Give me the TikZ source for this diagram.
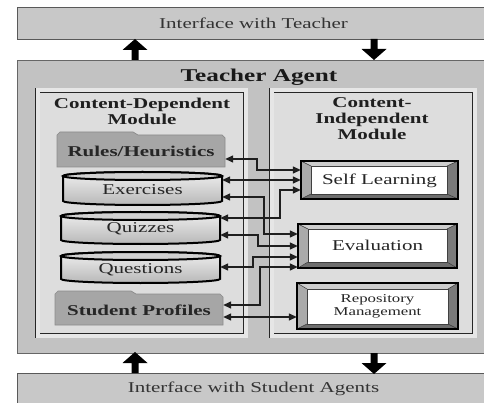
\documentclass[tikz,border=0pt]{standalone}
\usepackage{fontspec}
\setmainfont{Liberation Serif}[FakeStretch=1.4]
\usetikzlibrary{arrows.meta,calc}

\definecolor{ifgray}{HTML}{C8C8C8}
\definecolor{agentgray}{HTML}{C2C2C2}
\definecolor{modgap}{HTML}{E6E6E6}
\definecolor{modfill}{HTML}{DDDDDD}
\definecolor{foldergray}{HTML}{A6A6A6}
\definecolor{lidgray}{HTML}{D2D2D2}
\definecolor{bevtopc}{HTML}{CDCDCD}
\definecolor{bevleftc}{HTML}{AAAAAA}
\definecolor{bevrightc}{HTML}{7A7A7A}
\definecolor{bevbotc}{HTML}{6E6E6E}

% folder with a tab: left, tab top, right, bottom
\newcommand\foldershape[4]{%
  \filldraw[fill=foldergray, draw=black!45, line width=0.7pt]
    (#1,#4) -- (#1,#2+3) -- (#1+3,#2) -- (#1+76,#2) -- (#1+81,#2+3)
    -- (#3-3,#2+3) -- (#3,#2+6) -- (#3,#4) -- cycle;}

% drum (database) shape: left, right, top, bottom
\newcommand\drumshape[4]{%
  \path[draw=black, line width=2pt, top color=white!94!black, bottom color=black!28]
    (#1,#3+4) -- (#1,#4-4)
    arc[start angle=180, end angle=0, x radius={(#2-#1)/2}, y radius=4]
    -- (#2,#3+4)
    arc[start angle=0, end angle=-180, x radius={(#2-#1)/2}, y radius=4] -- cycle;
  \path[draw=black, line width=2pt, fill=lidgray]
    ({(#1+#2)/2},#3+4) ellipse[x radius={(#2-#1)/2}, y radius=4];}

% bevelled button: outer x1 y1 x2 y2, inner x1 y1 x2 y2
\newcommand\bevelbox[8]{%
  \fill[bevtopc]   (#1,#2) -- (#3,#2) -- (#7,#6) -- (#5,#6) -- cycle;
  \fill[bevbotc]   (#1,#4) -- (#3,#4) -- (#7,#8) -- (#5,#8) -- cycle;
  \fill[bevleftc]  (#1,#2) -- (#5,#6) -- (#5,#8) -- (#1,#4) -- cycle;
  \fill[bevrightc] (#3,#2) -- (#7,#6) -- (#7,#8) -- (#3,#4) -- cycle;
  \draw[black!80, line width=0.5pt] (#1,#2) -- (#5,#6) (#3,#2) -- (#7,#6)
    (#3,#4) -- (#7,#8) (#1,#4) -- (#5,#8);
  \filldraw[fill=white, draw=black!75, line width=0.6pt] (#5,#6) rectangle (#7,#8);
  \draw[black, line width=1.3pt] (#1,#2) rectangle (#3,#4);}

\begin{document}
\begin{tikzpicture}[x=1pt, y=-1pt,
  ifbox/.style={draw=black!65, line width=0.9pt, fill=ifgray, minimum width=473pt,
    minimum height=32pt, inner sep=0pt, text=black!80,
    font=\fontsize{15}{16}\selectfont},
  agentbox/.style={draw=black!60, line width=0.9pt, fill=agentgray, minimum width=473pt,
    minimum height=293pt, inner sep=0pt},
  modbox/.style={draw=black!85, line width=0.8pt, double=modgap, double distance=4pt,
    fill=modfill, minimum height=245pt, inner sep=0pt},
  title/.style={inner sep=0pt, text=black!90, font=\bfseries\fontsize{18}{20}\selectfont},
  modtitle/.style={inner sep=0pt, align=center, text=black!88,
    font=\bfseries\fontsize{15}{16}\selectfont},
  shapetext/.style={inner sep=0pt, text=black!85, font=\fontsize{15}{16}\selectfont},
  boldshape/.style={shapetext, font=\bfseries\fontsize{15}{16}\selectfont},
  conn/.style={{Triangle[length=8pt,width=7pt]}-{Triangle[length=8pt,width=7pt]},
    line width=1.4pt, draw=black!88},
  uparr/.pic={\fill[black] (-3.5,0) -- (-3.5,-10) -- (-12.5,-10) -- (0,-21)
    -- (12.5,-10) -- (3.5,-10) -- (3.5,0) -- cycle;},
  downarr/.pic={\fill[black] (-3.5,0) -- (-3.5,10) -- (-12.5,10) -- (0,21)
    -- (12.5,10) -- (3.5,10) -- (3.5,0) -- cycle;}
]
\useasboundingbox (0,0) rectangle (484,403);
\fill[white] (0,0) rectangle (484,403);

% outer interfaces and the agent frame
\node[ifbox] (iteacher) at (253.5,23) {Interface with Teacher};
\node[ifbox] (istudent) at (253.5,389) {Interface with Student Agents};
\node[agentbox] (agent) at (253.5,206.5) {};
\node[title] (agenttitle) at (259,77) {Teacher Agent};

% block arrows between the interfaces and the agent
\pic at (135,60) {uparr};
\pic at (374,39) {downarr};
\pic at (135,373) {uparr};
\pic at (374,353) {downarr};

% the two modules
\node[modbox, minimum width=208pt] (cdm) at (141.5,213) {};
\node[modbox, minimum width=203pt] (cim) at (373,213) {};
\node[modtitle] (cdmtitle) at (142,111) {Content-Dependent\\Module};
\node[modtitle] (cimtitle) at (372,119) {Content-\\Independent\\Module};

% content-dependent stores
\foldershape{57}{132}{225}{167}
\drumshape{63}{222}{172}{205}
\drumshape{61}{220}{212}{244}
\drumshape{61}{220}{252}{283}
\foldershape{55}{291}{223}{325}

% content-independent services
\bevelbox{301}{161}{458}{199}{311}{166}{447}{194}
\bevelbox{298}{224}{457}{268}{308}{229}{447}{262}
\bevelbox{297}{283}{458}{329}{307}{289}{448}{324}

% labels of stores and services
\node[boldshape, minimum width=168pt, minimum height=30pt] (rules) at (141,151) {Rules/Heuristics};
\node[shapetext, minimum width=159pt, minimum height=24pt] (ex) at (142.5,190) {Exercises};
\node[shapetext, minimum width=159pt, minimum height=24pt] (qz) at (140.5,229) {Quizzes};
\node[shapetext, minimum width=159pt, minimum height=24pt] (qs) at (140.5,270) {Questions};
\node[boldshape, minimum width=168pt, minimum height=30pt] (sp) at (139,310) {Student Profiles};
\node[shapetext, minimum width=157pt, minimum height=38pt] (sl) at (379.5,180.5) {Self Learning};
\node[shapetext, minimum width=159pt, minimum height=44pt] (eval) at (377.5,245.5) {Evaluation};
\node[shapetext, minimum width=161pt, minimum height=46pt, align=center,
  font=\fontsize{12}{13}\selectfont] (repo) at (377.5,306) {Repository\\Management};

% data flow between stores and services
\draw[conn] (rules.east |- 0,159) -- (257,159) -- (257,170) -- (sl.west |- 0,170);
\draw[conn] (ex.east |- 0,180) -- (sl.west |- 0,180);
\draw[conn] (ex.east |- 0,197) -- (264,197) -- (264,234) -- (eval.west |- 0,234);
\draw[conn] (qz.east |- 0,218) -- (280,218) -- (280,190) -- (sl.west |- 0,190);
\draw[conn] (qz.east |- 0,235) -- (258,235) -- (258,246) -- (eval.west |- 0,246);
\draw[conn] (qs.east |- 0,267) -- (253,267) -- (253,257) -- (eval.west |- 0,257);
\draw[conn] (sp.east |- 0,305) -- (260,305) -- (260,267) -- (eval.west |- 0,267);
\draw[conn] (sp.east |- 0,317) -- (repo.west |- 0,317);
\end{tikzpicture}
\end{document}
